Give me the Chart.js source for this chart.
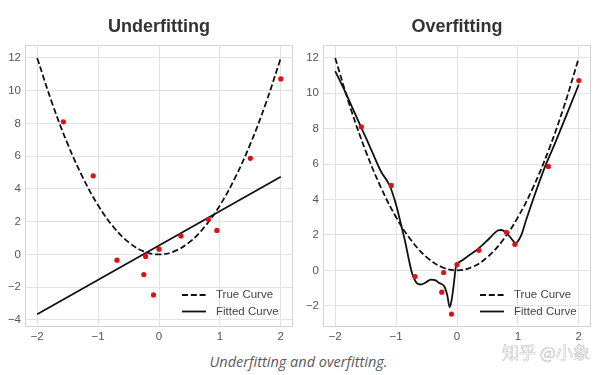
<!DOCTYPE html>
<html>
<head>
<meta charset="utf-8">
<script src="https://cdn.jsdelivr.net/npm/chart.js@4.4.0/dist/chart.umd.min.js"></script>
<style>
  body { margin: 0; background: #fff; width: 613px; height: 375px; position: relative; overflow: hidden; }
  #under { position: absolute; left: 0; top: 0; }
  #over { position: absolute; left: 300px; top: 0; }
  .caption { position: absolute; left: 0; width: 597px; top: 352px; text-align: center;
             font: italic 14.5px "Open Sans", sans-serif; color: #5a5a5a; }
  .mark { position: absolute; left: 502px; top: 339px; font: 17px "Noto Sans CJK SC", sans-serif;
          color: #fff; -webkit-text-stroke: 0.6px #c4c4c4; }
</style>
</head>
<body>
<canvas id="under" width="300" height="346"></canvas>
<canvas id="over" width="300" height="346"></canvas>
<div class="caption">Underfitting and overfitting.</div>
<div class="mark">知乎 @小象</div>
<script>
// noisy samples (same in both panels)
const sampleX = [-1.57, -1.08, -0.69, -0.25, -0.22, -0.09, 0.0, 0.36, 0.81, 0.95, 1.5, 2.0];
const sampleY = [8.1, 4.8, -0.35, -1.23, -0.12, -2.47, 0.32, 1.13, 2.15, 1.47, 5.87, 10.72];

// true curve
const trueX = [-2, -1.75, -1.5, -1.25, -1, -0.75, -0.5, -0.25, 0, 0.25, 0.5, 0.75, 1, 1.25, 1.5, 1.75, 2];
const trueY = [12, 9.19, 6.75, 4.69, 3, 1.69, 0.75, 0.19, 0, 0.19, 0.75, 1.69, 3, 4.69, 6.75, 9.19, 12];

// underfit: straight line
const lineX = [-2, 2];
const lineY = [-3.65, 4.75];

// overfit: wiggly polynomial
const polyX = [-2, -1.85, -1.7, -1.55, -1.4, -1.25, -1.1, -1.0, -0.93, -0.85, -0.79, -0.74, -0.7, -0.66,
               -0.6, -0.52, -0.43, -0.36, -0.3, -0.21, -0.16, -0.12, -0.08, -0.05, -0.02, 0, 0.1, 0.2,
               0.36, 0.5, 0.6, 0.67, 0.73, 0.8, 0.88, 0.96, 1.05, 1.14, 1.3, 1.45, 1.6, 1.8, 2];
const polyY = [11.25, 10.2, 9.05, 7.9, 6.75, 5.6, 4.75, 3.7, 2.75, 1.6, 0.6, -0.13, -0.5, -0.72,
               -0.8, -0.7, -0.52, -0.55, -0.7, -0.9, -1.4, -2.08, -1.5, -0.7, 0.15, 0.33, 0.6, 0.85,
               1.25, 1.7, 2.05, 2.25, 2.28, 2.15, 1.85, 1.55, 1.95, 2.9, 4.5, 5.9, 7.1, 8.8, 10.5];

const xTicks = [-2, -1, 0, 1, 2];
const legendOrder = ['True Curve', 'Fitted Curve'];

function pts(xs, ys) {
    return xs.map((x, i) => ({x: x, y: ys[i]}));
}

function minus(v) {
    return (v < 0 ? '\u2212' : '') + Math.abs(v);
}

const framePlugin = {
    id: 'frame',
    beforeDatasetsDraw(chart) {
        const {ctx, chartArea: a} = chart;
        ctx.save();
        ctx.strokeStyle = '#d4d4d4';
        ctx.lineWidth = 1;
        ctx.strokeRect(a.left + 0.5, a.top + 0.5, a.width - 1, a.height - 1);
        ctx.restore();
    },
    afterDraw(chart) {
        // legend in the lower right corner
        const {ctx, chartArea: a} = chart;
        const rows = [a.bottom - 32, a.bottom - 15.5];
        ctx.save();
        legendOrder.forEach((name, i) => {
            const d = chart.data.datasets.find(ds => ds.label === name);
            const y = rows[i];
            ctx.beginPath();
            ctx.strokeStyle = d.borderColor;
            ctx.lineWidth = d.borderWidth;
            ctx.setLineDash(d.borderDash || []);
            ctx.moveTo(a.right - 111, y);
            ctx.lineTo(a.right - 87, y);
            ctx.stroke();
            ctx.setLineDash([]);
            ctx.fillStyle = '#444';
            ctx.font = '11.5px "Liberation Sans", Arial, sans-serif';
            ctx.textBaseline = 'middle';
            ctx.fillText(d.label, a.right - 77, y);
        });
        ctx.restore();
    }
};

function makeChart(id, title, fitX, fitY, yMin, yMax, yWidth, padRight) {
    return new Chart(document.getElementById(id).getContext('2d'), {
        type: 'line',
        data: {
            datasets: [
                {
                    data: pts(sampleX, sampleY),
                    showLine: false,
                    pointRadius: 2.6,
                    pointBorderWidth: 0,
                    pointBackgroundColor: '#e01010'
                },
                {
                    label: 'Fitted Curve',
                    data: pts(fitX, fitY),
                    borderColor: '#111',
                    borderWidth: 1.8,
                    pointRadius: 0,
                    cubicInterpolationMode: 'monotone'
                },
                {
                    label: 'True Curve',
                    data: pts(trueX, trueY),
                    borderColor: '#111',
                    borderWidth: 1.8,
                    borderDash: [6, 2.8],
                    pointRadius: 0,
                    tension: 0.4
                }
            ]
        },
        options: {
            responsive: false,
            animation: false,
            layout: { padding: { right: padRight, top: 0, left: 0, bottom: 0 } },
            plugins: {
                legend: { display: false },
                tooltip: { enabled: false },
                title: {
                    display: true,
                    text: title,
                    fullSize: false,
                    color: '#333',
                    font: { family: '"Liberation Sans", Arial, sans-serif', size: 18, weight: 'bold' },
                    padding: { top: 16.5, bottom: 6.9 }
                }
            },
            scales: {
                x: {
                    type: 'linear',
                    min: -2.2,
                    max: 2.2,
                    afterFit: s => { s.height = 19; },
                    afterBuildTicks: s => { s.ticks = xTicks.map(v => ({value: v})); },
                    grid: { color: '#e2e2e2', drawTicks: false },
                    border: { display: false },
                    ticks: {
                        padding: 3,
                        color: '#555',
                        font: { family: '"Liberation Sans", Arial, sans-serif', size: 11.5 },
                        callback: minus
                    }
                },
                y: {
                    min: yMin,
                    max: yMax,
                    afterFit: s => { s.width = yWidth; },
                    grid: { color: '#e2e2e2', drawTicks: false },
                    border: { display: false },
                    ticks: {
                        stepSize: 2,
                        includeBounds: false,
                        padding: 4,
                        color: '#555',
                        font: { family: '"Liberation Sans", Arial, sans-serif', size: 11.5 },
                        callback: minus
                    }
                }
            }
        },
        plugins: [framePlugin]
    });
}

makeChart('under', 'Underfitting', lineX, lineY, -4.43, 12.79, 25, 7);
makeChart('over', 'Overfitting', polyX, polyY, -3.2, 12.73, 23, 9);
</script>
</body>
</html>
